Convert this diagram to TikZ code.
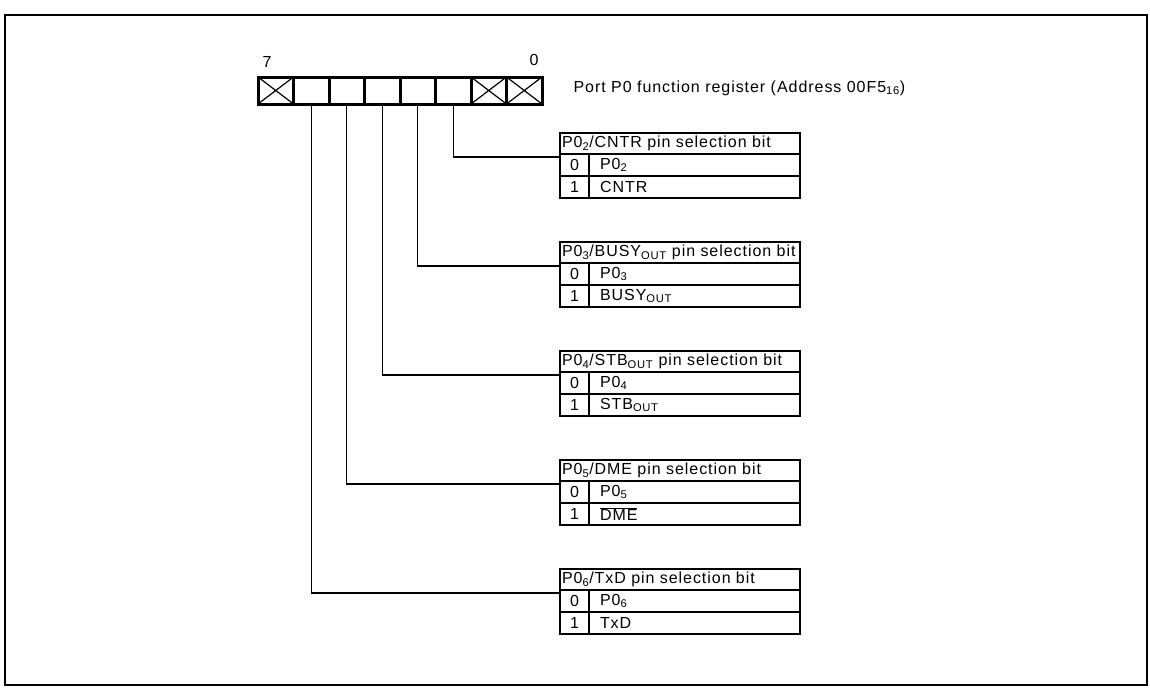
\documentclass[tikz,border=0pt]{standalone}
\usepackage{fontspec}
\setmainfont[LetterSpace=6]{Liberation Sans}
\begin{document}
\begin{tikzpicture}[x=1pt,y=-1pt,font=\fontsize{16}{19}\selectfont,
    cell/.style={draw,line width=3pt,minimum width=35.5pt,minimum height=27pt,inner sep=0pt,outer sep=0pt},
    head/.style={draw,line width=2.2pt,minimum width=240pt,minimum height=21pt,text width=236pt,inner xsep=2pt,inner ysep=0pt,outer sep=0pt,align=left},
    bitno/.style={draw,line width=2.2pt,minimum width=29pt,minimum height=22pt,inner sep=0pt,outer sep=0pt},
    func/.style={draw,line width=2.2pt,minimum width=211pt,minimum height=22pt,text width=189pt,inner xsep=11pt,inner ysep=0pt,outer sep=0pt,align=left},
    wire/.style={line width=1.1pt}]
    \useasboundingbox (0,0) rectangle (1150,688);
    \draw[line width=2.6pt] (5,15) rectangle (1147,685);
    % register
    \node[cell] (c7) at (275.75,90.5) {};
    \node[cell] (c6) at (311.25,90.5) {};
    \node[cell] (c5) at (346.75,90.5) {};
    \node[cell] (c4) at (382.25,90.5) {};
    \node[cell] (c3) at (417.75,90.5) {};
    \node[cell] (c2) at (453.25,90.5) {};
    \node[cell] (c1) at (488.75,90.5) {};
    \node[cell] (c0) at (524.25,90.5) {};
    \draw[line width=1.2pt] (c7.north west)--(c7.south east) (c7.south west)--(c7.north east);
    \draw[line width=1.2pt] (c1.north west)--(c1.south east) (c1.south west)--(c1.north east);
    \draw[line width=1.2pt] (c0.north west)--(c0.south east) (c0.south west)--(c0.north east);
    \node (msb) at (267,62) {7};
    \node (lsb) at (534,60) {0};
    \node[anchor=west] (reg) at (570,88) {Port P0 function register (Address 00F5\textsubscript{16})};
    % P0_2
    \node[head] (t2) at (680,143.5) {P0\textsubscript{2}/CNTR pin selection bit};
    \node[bitno] (n2a) at (574.5,165) {0};
    \node[func] (f2a) at (694.5,165) {P0\textsubscript{2}};
    \node[bitno] (n2b) at (574.5,187) {1};
    \node[func] (f2b) at (694.5,187) {CNTR};
    \draw[wire] (c2.south) |- ([yshift=-3pt]n2a.north west);
    % P0_3
    \node[head] (t3) at (680,252.5) {P0\textsubscript{3}/BUSY\textsubscript{OUT} pin selection bit};
    \node[bitno] (n3a) at (574.5,274) {0};
    \node[func] (f3a) at (694.5,274) {P0\textsubscript{3}};
    \node[bitno] (n3b) at (574.5,296) {1};
    \node[func] (f3b) at (694.5,296) {BUSY\textsubscript{OUT}};
    \draw[wire] (c3.south) |- ([yshift=-3pt]n3a.north west);
    % P0_4
    \node[head] (t4) at (680,361.5) {P0\textsubscript{4}/STB\textsubscript{OUT} pin selection bit};
    \node[bitno] (n4a) at (574.5,383) {0};
    \node[func] (f4a) at (694.5,383) {P0\textsubscript{4}};
    \node[bitno] (n4b) at (574.5,405) {1};
    \node[func] (f4b) at (694.5,405) {STB\textsubscript{OUT}};
    \draw[wire] (c4.south) |- ([yshift=-3pt]n4a.north west);
    % P0_5
    \node[head] (t5) at (680,470.5) {P0\textsubscript{5}/DME pin selection bit};
    \node[bitno] (n5a) at (574.5,492) {0};
    \node[func] (f5a) at (694.5,492) {P0\textsubscript{5}};
    \node[bitno] (n5b) at (574.5,514) {1};
    \node[func] (f5b) at (694.5,514) {$\overline{\mbox{DME}}$};
    \draw[wire] (c5.south) |- ([yshift=-3pt]n5a.north west);
    % P0_6
    \node[head] (t6) at (680,579.5) {P0\textsubscript{6}/TxD pin selection bit};
    \node[bitno] (n6a) at (574.5,601) {0};
    \node[func] (f6a) at (694.5,601) {P0\textsubscript{6}};
    \node[bitno] (n6b) at (574.5,623) {1};
    \node[func] (f6b) at (694.5,623) {TxD};
    \draw[wire] (c6.south) |- ([yshift=-3pt]n6a.north west);
\end{tikzpicture}
\end{document}
